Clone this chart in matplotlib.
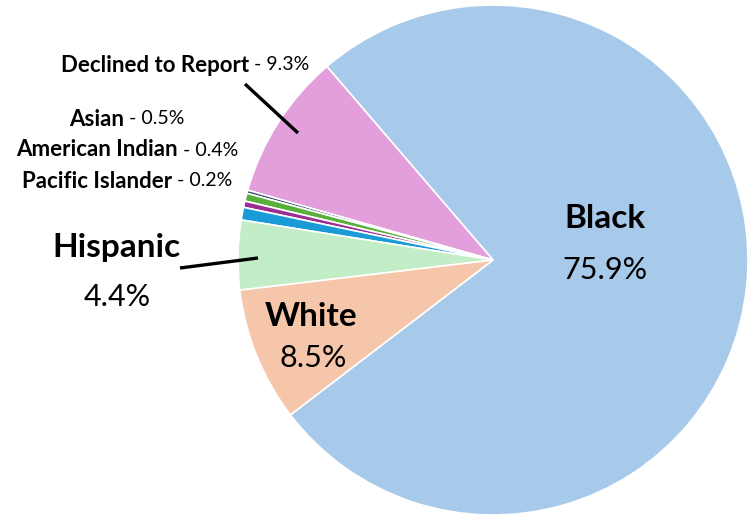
import matplotlib
matplotlib.use("Agg")
import matplotlib.pyplot as plt

# slices, counterclockwise starting with Black
labels = ['Black', 'Declined to Report', 'Pacific Islander', 'Asian',
          'American Indian', 'Other', 'Hispanic', 'White']
values = [75.9, 9.3, 0.2, 0.5, 0.4, 0.8, 4.4, 8.5]
colors = ['#A7C9EA', '#E39EDC', '#2C4A6E', '#5AAE3A',
          '#9B2E91', '#1A9AD6', '#C3EDC6', '#F5C6AA']

plt.rcParams['font.family'] = ['Lato', 'DejaVu Sans']

fig = plt.figure(figsize=(7.5, 5.16), dpi=100)
ax = fig.add_axes([0, 0, 1, 1])

ax.pie(values, colors=colors, startangle=-142.6, counterclock=True,
       center=(493, 0), radius=255, frame=True,
       wedgeprops=dict(edgecolor='white', linewidth=1.2))
ax.set_ylim(-256, 260)
ax.set_xlim(0, 750)
ax.set_aspect('equal')
ax.axis('off')

def Y(py):
    # pixel row -> data y
    return 260 - py

# big labels
ax.text(605, Y(218), 'Black', fontsize=24, weight='bold', ha='center', va='center')
ax.text(605, Y(270), '75.9%', fontsize=22, ha='center', va='center')
ax.text(311, Y(316), 'White', fontsize=24, weight='bold', ha='center', va='center')
ax.text(313, Y(358), '8.5%', fontsize=22, ha='center', va='center')
ax.text(116, Y(248), 'Hispanic', fontsize=24, weight='bold', ha='center', va='center')
ax.text(117, Y(297), '4.4%', fontsize=22, ha='center', va='center')

# small labels: bold name + normal value
small = [('Declined to Report', ' - 9.3%', 249, 65),
         ('Asian', ' - 0.5%', 124, 119),
         ('American Indian', ' - 0.4%', 178, 150),
         ('Pacific Islander', ' - 0.2%', 172, 181)]
for name, val, x, y in small:
    ax.text(x, Y(y), name, fontsize=16, weight='bold', ha='right', va='center')
    ax.text(x, Y(y), val, fontsize=14, ha='left', va='center')

# leader lines
ax.plot([245, 298], [Y(84), Y(133)], color='black', lw=2.4, solid_capstyle='butt')
ax.plot([180, 258], [Y(268), Y(258)], color='black', lw=2.4, solid_capstyle='butt')

plt.savefig('out.png', dpi=100)
